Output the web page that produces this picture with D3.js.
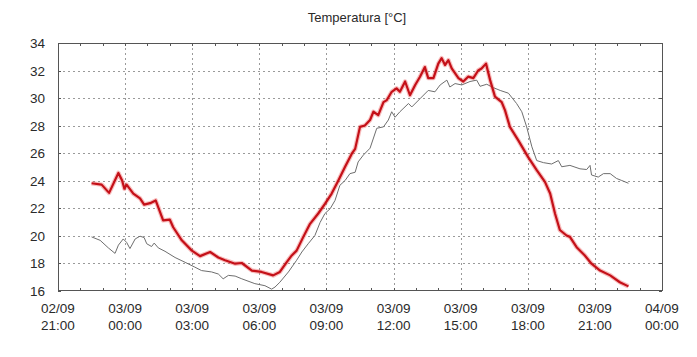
<!DOCTYPE html>
<html><head><meta charset="utf-8">
<script src="https://cdn.jsdelivr.net/npm/d3@7/dist/d3.min.js"></script>
<style>
body{margin:0;background:#fff;}
svg text{font-family:"Liberation Sans",Arial,sans-serif;fill:#2a2a2a;}
</style></head><body>
<svg id="chart" width="697" height="357"></svg>
<script>
const title = "Temperatura [°C]";
const yTicks = [16,18,20,22,24,26,28,30,32,34];
const xTickTimes = ["09-02 21:00","09-03 00:00","09-03 03:00","09-03 06:00","09-03 09:00","09-03 12:00","09-03 15:00","09-03 18:00","09-03 21:00","09-04 00:00"];
const xTickLabels = [["02/09","21:00"],["03/09","00:00"],["03/09","03:00"],["03/09","06:00"],["03/09","09:00"],["03/09","12:00"],["03/09","15:00"],["03/09","18:00"],["03/09","21:00"],["04/09","00:00"]];

const redTimes = ["09-02 22:30","09-02 22:57","09-02 23:17","09-02 23:42","09-02 23:52","09-02 23:58","09-03 00:04","09-03 00:22","09-03 00:40","09-03 00:51","09-03 01:07","09-03 01:22","09-03 01:29","09-03 01:42","09-03 02:00","09-03 02:09","09-03 02:32","09-03 02:59","09-03 03:21","09-03 03:48","09-03 04:10","09-03 04:28","09-03 04:55","09-03 05:13","09-03 05:40","09-03 06:06","09-03 06:37","09-03 06:55","09-03 07:13","09-03 07:27","09-03 07:40","09-03 07:58","09-03 08:16","09-03 08:38","09-03 08:56","09-03 09:14","09-03 09:32","09-03 09:50","09-03 10:08","09-03 10:17","09-03 10:30","09-03 10:43","09-03 10:57","09-03 11:06","09-03 11:19","09-03 11:33","09-03 11:42","09-03 11:55","09-03 12:08","09-03 12:17","09-03 12:31","09-03 12:44","09-03 12:58","09-03 13:11","09-03 13:24","09-03 13:33","09-03 13:47","09-03 14:00","09-03 14:09","09-03 14:18","09-03 14:27","09-03 14:36","09-03 14:54","09-03 15:07","09-03 15:20","09-03 15:34","09-03 15:47","09-03 15:56","09-03 16:08","09-03 16:19","09-03 16:32","09-03 16:50","09-03 16:59","09-03 17:12","09-03 17:35","09-03 18:01","09-03 18:24","09-03 18:46","09-03 19:00","09-03 19:13","09-03 19:26","09-03 19:44","09-03 19:53","09-03 20:11","09-03 20:33","09-03 20:51","09-03 21:14","09-03 21:41","09-03 22:07","09-03 22:30"];
const redValues = [23.8,23.7,23.1,24.55,24.0,23.4,23.7,23.05,22.7,22.25,22.35,22.55,22.05,21.1,21.15,20.6,19.65,18.9,18.5,18.8,18.4,18.2,17.95,18.0,17.45,17.35,17.1,17.35,18.05,18.55,18.9,19.9,20.85,21.6,22.3,23.05,24.0,25.0,25.95,26.3,27.9,28.0,28.4,29.0,28.75,29.7,29.85,30.45,30.7,30.45,31.2,30.2,30.95,31.55,32.25,31.45,31.45,32.5,32.9,32.4,32.75,32.15,31.45,31.2,31.55,31.45,32.0,32.15,32.5,31.3,30.1,29.7,29.1,27.9,26.9,25.7,24.75,23.9,23.05,21.6,20.4,20.0,19.9,19.15,18.55,17.95,17.45,17.1,16.6,16.3];

const grayTimes = ["09-02 22:30","09-02 22:53","09-02 23:15","09-02 23:33","09-02 23:42","09-02 23:55","09-03 00:04","09-03 00:13","09-03 00:27","09-03 00:40","09-03 00:51","09-03 00:58","09-03 01:11","09-03 01:18","09-03 01:29","09-03 01:47","09-03 02:14","09-03 02:41","09-03 03:07","09-03 03:25","09-03 03:52","09-03 04:10","09-03 04:23","09-03 04:37","09-03 04:55","09-03 05:13","09-03 05:48","09-03 06:15","09-03 06:33","09-03 06:42","09-03 06:55","09-03 07:18","09-03 07:40","09-03 07:54","09-03 08:11","09-03 08:29","09-03 08:43","09-03 08:56","09-03 09:10","09-03 09:23","09-03 09:36","09-03 09:50","09-03 10:03","09-03 10:17","09-03 10:25","09-03 10:39","09-03 10:57","09-03 11:15","09-03 11:33","09-03 11:46","09-03 11:55","09-03 12:04","09-03 12:17","09-03 12:40","09-03 12:49","09-03 13:11","09-03 13:33","09-03 13:51","09-03 14:05","09-03 14:23","09-03 14:31","09-03 14:45","09-03 15:03","09-03 15:25","09-03 15:43","09-03 15:52","09-03 16:10","09-03 16:28","09-03 16:46","09-03 17:08","09-03 17:30","09-03 17:44","09-03 17:57","09-03 18:11","09-03 18:24","09-03 18:42","09-03 19:04","09-03 19:22","09-03 19:31","09-03 19:53","09-03 20:20","09-03 20:38","09-03 20:47","09-03 20:51","09-03 21:09","09-03 21:23","09-03 21:41","09-03 21:58","09-03 22:12","09-03 22:30"];
const grayValues = [19.9,19.65,19.1,18.7,19.3,19.75,19.5,19.05,19.75,19.95,19.85,19.4,19.2,19.45,19.1,18.85,18.4,18.05,17.7,17.45,17.35,17.2,16.85,17.1,17.05,16.85,16.5,16.35,16.1,16.25,16.6,17.35,18.2,18.8,19.4,20.0,20.95,21.6,21.95,22.55,23.65,24.0,24.5,24.6,25.35,25.85,26.35,27.8,27.9,28.4,29.0,28.6,29.0,29.6,29.35,29.95,30.55,30.45,30.95,31.3,30.8,31.05,30.95,31.2,31.3,30.85,31.0,30.75,30.55,30.35,29.6,29.0,27.9,26.45,25.45,25.3,25.2,25.45,25.0,25.1,24.85,24.8,25.1,24.4,24.25,24.5,24.5,24.15,24.0,23.8];

const parse = d3.timeParse("%m-%d %H:%M");
const red = redTimes.map((t,i)=>({t:parse(t),v:redValues[i]}));
const gray = grayTimes.map((t,i)=>({t:parse(t),v:grayValues[i]}));
const xt = xTickTimes.map(parse);

const m = {l:58, r:662, t:43, b:290.5};
const x = d3.scaleTime().domain([xt[0], xt[xt.length-1]]).range([m.l, m.r]);
const y = d3.scaleLinear().domain([16,34]).range([m.b, m.t]);

const svg = d3.select("#chart");

// grid
const grid = svg.append("g").attr("stroke","#9a9a9a").attr("stroke-width",1).attr("stroke-dasharray","2,3").attr("shape-rendering","crispEdges");
xt.slice(1,-1).forEach(d=>grid.append("line").attr("x1",Math.round(x(d))+0.5).attr("x2",Math.round(x(d))+0.5).attr("y1",m.t).attr("y2",m.b));
yTicks.slice(1,-1).forEach(d=>grid.append("line").attr("y1",Math.round(y(d))+0.5).attr("y2",Math.round(y(d))+0.5).attr("x1",m.l).attr("x2",m.r));

// minor hour ticks
const hours = d3.timeHour.range(xt[0], xt[xt.length-1]);
const ticks = svg.append("g").attr("stroke","#555").attr("stroke-width",1).attr("shape-rendering","crispEdges");
hours.forEach(d=>{
  const xx = Math.round(x(d))+0.5;
  ticks.append("line").attr("x1",xx).attr("x2",xx).attr("y1",m.t).attr("y2",m.t+3);
  ticks.append("line").attr("x1",xx).attr("x2",xx).attr("y1",m.b).attr("y2",m.b-3);
});
yTicks.forEach(d=>{
  const yy = Math.round(y(d))+0.5;
  ticks.append("line").attr("x1",m.l).attr("x2",m.l+3).attr("y1",yy).attr("y2",yy);
  ticks.append("line").attr("x1",m.r).attr("x2",m.r-3).attr("y1",yy).attr("y2",yy);
});

// lines
const line = d3.line().x(d=>x(d.t)).y(d=>y(d.v));
svg.append("path").datum(gray).attr("d",line).attr("fill","none").attr("stroke","#6e6e6e").attr("stroke-width",1);
svg.append("path").datum(red).attr("d",line).attr("fill","none").attr("stroke","rgba(235,70,70,0.35)").attr("stroke-width",4.5).attr("stroke-linejoin","round");
svg.append("path").datum(red).attr("d",line).attr("fill","none").attr("stroke","#c41018").attr("stroke-width",2.2).attr("stroke-linejoin","round");

// frame
svg.append("rect").attr("x",m.l+0.5).attr("y",m.t+0.5).attr("width",m.r-m.l).attr("height",m.b-m.t-0.5).attr("fill","none").attr("stroke","#555").attr("shape-rendering","crispEdges");

// labels
svg.append("g").selectAll("text").data(yTicks).join("text")
  .attr("x",45).attr("y",d=>y(d)+5).attr("text-anchor","end").attr("font-size",13.5).text(d=>d);
const xl = svg.append("g").selectAll("text").data(xt).join("text")
  .attr("text-anchor","middle").attr("font-size",13.5);
xl.append("tspan").attr("x",d=>x(d)).attr("y",313).text((d,i)=>xTickLabels[i][0]);
xl.append("tspan").attr("x",d=>x(d)).attr("y",329.5).text((d,i)=>xTickLabels[i][1]);

svg.append("text").attr("x",357).attr("y",22).attr("text-anchor","middle").attr("font-size",13).text(title);
</script></body></html>
